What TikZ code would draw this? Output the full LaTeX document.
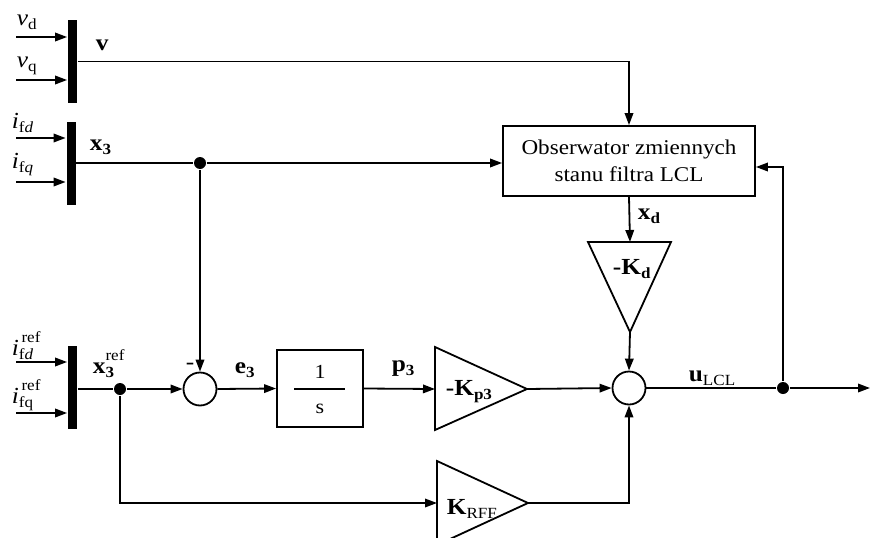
\documentclass[tikz,border=0pt]{standalone}
\usepackage{fontspec}
\setmainfont[FakeStretch=1.1]{Liberation Serif}
\usetikzlibrary{arrows.meta}
\newcommand\sbs[1]{\raisebox{-0.2em}{\fontsize{15.5}{15.5}\selectfont #1}}
\newcommand\sps[1]{\raisebox{0.55em}{\fontsize{15.5}{15.5}\selectfont #1}}
\newcommand\stk[2]{\makebox[0pt][l]{\sps{#1}}\sbs{#2}}
\begin{document}
\begin{tikzpicture}[x=1pt,y=-1pt,line width=1.8pt,
  >={Triangle[length=12pt,width=8.5pt]},
  every node/.style={font=\fontsize{23}{27}\selectfont},
  bar/.style={fill=black,draw=none,minimum width=9pt,minimum height=83pt,inner sep=0pt},
  sumc/.style={circle,draw,minimum size=33pt,inner sep=0pt},
  blk/.style={draw,rectangle,inner sep=0pt},
  dotn/.style={circle,fill=black,minimum size=12pt,inner sep=0pt},
  lbl/.style={inner sep=0pt,anchor=base west},
  conn/.style={->}]
\useasboundingbox (0,0) rectangle (870,538);
\clip (0,0) rectangle (870,538);

% bars
\node[bar] (barV) at (72.5,61.5) {};
\node[bar] (barX) at (71,163) {};
\node[bar] (barR) at (72.5,387.5) {};

% inputs
\coordinate (in1) at (16,37);
\coordinate (in2) at (16,80);
\coordinate (in3) at (16,138);
\coordinate (in4) at (16,182);
\coordinate (in5) at (16,362);
\coordinate (in6) at (16,413);
\draw[conn] (in1) -- (in1 -| barV.west);
\draw[conn] (in2) -- (in2 -| barV.west);
\draw[conn] (in3) -- (in3 -| barX.west);
\draw[conn] (in4) -- (in4 -| barX.west);
\draw[conn] (in5) -- (in5 -| barR.west);
\draw[conn] (in6) -- (in6 -| barR.west);

% input labels
\node[lbl] (lvd) at (16,25) {\textit{v}\sbs{d}};
\node[lbl] (lvq) at (16,67) {\textit{v}\sbs{q}};
\node[lbl] (lifd) at (11,128) {\textit{i}\sbs{f\textit{d}}};
\node[lbl] (lifq) at (11,168) {\textit{i}\sbs{f\textit{q}}};
\node[lbl] (lifdr) at (11,355) {\textit{i}\stk{\,ref}{f\textit{d}}};
\node[lbl] (lifqr) at (11,403) {\textit{i}\stk{\,ref}{fq}};

% bus labels
\node[lbl] (lv) at (95,50) {\textbf{v}};
\node[lbl] (lx3) at (89,150) {\textbf{x}\sbs{\textbf{3}}};
\node[lbl] (lx3r) at (92,373) {\textbf{x}\stk{ref}{\textbf{3}}};

% observer
\node[blk,minimum width=252pt,minimum height=70pt,align=center,
      font=\fontsize{21}{27}\selectfont] (obs) at (629,161)
      {Obserwator zmiennych\\stanu filtra LCL};

% dots
\node[dotn] (dot1) at (200,163) {};
\node[dotn] (dot2) at (783,388) {};
\node[dotn] (dot3) at (120,389) {};

% sums
\node[sumc] (sum1) at (200,389) {};
\node[sumc] (sum2) at (629,388) {};
\node[inner sep=0pt] (minus) at (190,366) {-};

% integrator
\node[blk,minimum width=86pt,minimum height=77pt] (integ) at (320,388.5) {};
\node[inner sep=0pt,anchor=base,font=\fontsize{20}{24}\selectfont] (one) at (320,378) {1};
\node[inner sep=0pt,anchor=base,font=\fontsize{20}{24}\selectfont] (ess) at (320,413) {s};
\draw[line width=1.4pt] (294,389) -- (345,389);

% triangles
\coordinate (kp3in) at (435,389);
\coordinate (kp3out) at (527,389);
\draw (435,347) -- (435,430) -- (kp3out) -- cycle;
\coordinate (krffin) at (437,503);
\coordinate (krffout) at (528,503);
\draw (437,461) -- (437,545) -- (krffout) -- cycle;
\coordinate (kdin) at (630,242);
\coordinate (kdout) at (630,332);
\draw (588,242) -- (671,242) -- (kdout) -- cycle;

\node[lbl] (lkp3) at (445,395) {\textbf{-K}\sbs{\textbf{p3}}};
\node[lbl] (lkrff) at (446,514) {\textbf{K}\sbs{RFF}};
\node[lbl] (lkd) at (612,274) {\textbf{-K}\sbs{\textbf{d}}};
\node[lbl] (lxd) at (637,219) {\textbf{x}\sbs{\textbf{d}}};
\node[lbl] (le3) at (234,373) {\textbf{e}\sbs{\textbf{3}}};
\node[lbl] (lp3) at (391,371) {\textbf{p}\sbs{\textbf{3}}};
\node[lbl] (lu) at (688,381) {\textbf{u}\sbs{LCL}};

% connectors
\draw[conn] (barV.east) -| (obs.north);
\draw (barX.east) -- (dot1);
\draw[conn] (dot1) -- (dot1 -| obs.west);
\draw[conn] (dot1) -- (sum1.north);
\draw[conn] (obs.south) -- (kdin);
\draw[conn] (kdout) -- (sum2.north);
\draw (barR.east |- dot3) -- (dot3);
\draw[conn] (dot3) -- (sum1.west);
\draw[conn] (sum1.east) -- (integ.west);
\draw[conn] (integ.east) -- (kp3in);
\draw[conn] (kp3out) -- (sum2.west);
\draw (sum2.east) -- (dot2);
\coordinate (out) at (870,388);
\draw[conn] (dot2) -- (out);
\draw[conn] (dot2) |- ([yshift=-6pt]obs.east);
\draw[conn] (dot3) |- (krffin);
\draw[conn] (krffout) -| (sum2.south);
\end{tikzpicture}
\end{document}
